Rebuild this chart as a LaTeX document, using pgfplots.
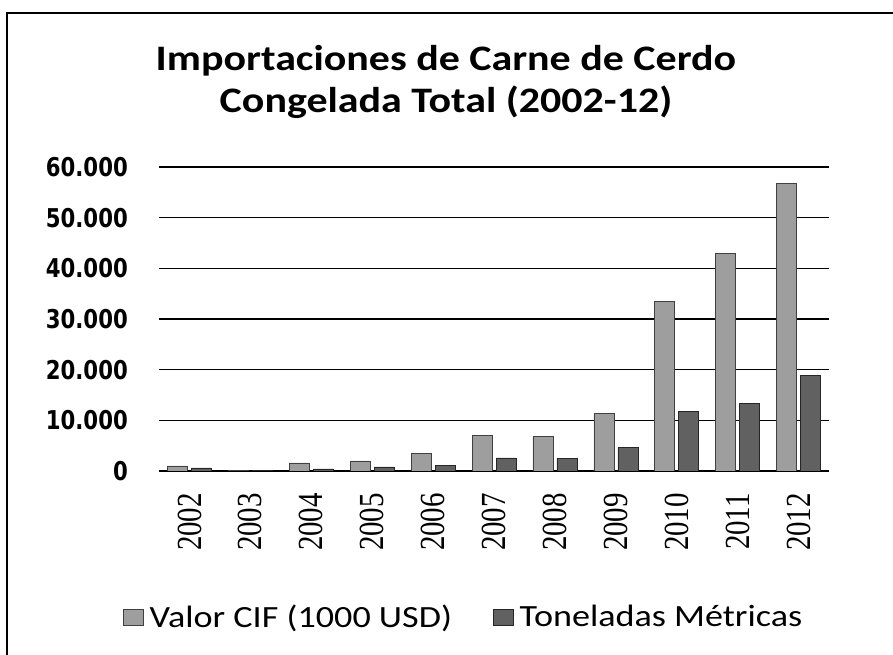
\documentclass[border=0pt]{standalone}
\usepackage{fontspec}
\setmainfont{Carlito}
\newfontfamily\dejavu{DejaVu Sans}
\newfontfamily\libserif{Liberation Serif}
\usepackage{graphicx}
\usepackage{pgfplots}
\pgfplotsset{compat=1.18}
\newcommand\yrl[1]{\scalebox{1}[1.22]{\libserif\fontsize{29}{29}\selectfont #1}}
\newcommand\ytl[1]{\scalebox{0.82}[1]{#1}}
\newcommand\lgt[1]{\scalebox{1.17}[1]{#1}}
\begin{document}
\begin{tikzpicture}
\useasboundingbox (0,0) rectangle (893bp,655bp);
\draw[line width=1.2bp] (7bp,0) -- (7bp,642bp) -- (893bp,642bp);
\node[inner sep=0pt] at (446bp,572bp) {\scalebox{1.17}[1]{\bfseries\fontsize{36}{43}\selectfont
  \begin{tabular}{@{}c@{}}Importaciones de Carne de Cerdo\\Congelada Total (2002-12)\end{tabular}}};
\begin{axis}[
  at={(159bp,184bp)}, anchor=south west,
  scale only axis, width=670bp, height=304bp,
  ybar=4bp, bar width=20bp,
  xmin=-0.5, xmax=10.5, ymin=0, ymax=60000,
  scaled y ticks=false,
  xtick=data,
  xticklabels={\yrl{2002},\yrl{2003},\yrl{2004},\yrl{2005},\yrl{2006},\yrl{2007},\yrl{2008},\yrl{2009},\yrl{2010},\yrl{2011},\yrl{2012}},
  ytick={0,10000,20000,30000,40000,50000,60000},
  yticklabels={\ytl{0},\ytl{10.000},\ytl{20.000},\ytl{30.000},\ytl{40.000},\ytl{50.000},\ytl{60.000}},
  major tick length=0pt,
  axis x line*=bottom, axis y line*=left,
  y axis line style={draw=none},
  x axis line style={line width=1.2bp},
  ymajorgrids, major grid style={black, line width=1.1bp},
  yticklabel style={font=\dejavu\bfseries\fontsize{26}{26}\selectfont, inner sep=0pt, anchor=east, xshift=-31bp},
  xticklabel style={yshift=-22bp, rotate=90, anchor=east, inner sep=0pt},
  legend style={at={(0.454,-0.480)}, anchor=center, draw=none, legend columns=2,
    font=\fontsize{31}{31}\selectfont, column sep=5bp, inner sep=0pt,
    nodes={inner sep=1bp},
    /tikz/every even column/.append style={column sep=40bp}},
  legend image code/.code={\draw[#1] (0bp,-8bp) rectangle (20bp,8bp);},
]
\addplot[fill=black!38, draw=black!75, line width=0.6bp] coordinates {
(0,1000) (1,100) (2,1600) (3,2000) (4,3400) (5,7100) (6,6800) (7,11300) (8,33500) (9,43000) (10,56700)};
\addplot[fill=black!62, draw=black!85, line width=0.6bp] coordinates {
(0,600) (1,50) (2,400) (3,800) (4,1100) (5,2600) (6,2500) (7,4700) (8,11800) (9,13300) (10,18800)};
\legend{\lgt{Valor CIF (1000 USD)},\lgt{Toneladas Métricas}}
\end{axis}
\end{tikzpicture}
\end{document}
